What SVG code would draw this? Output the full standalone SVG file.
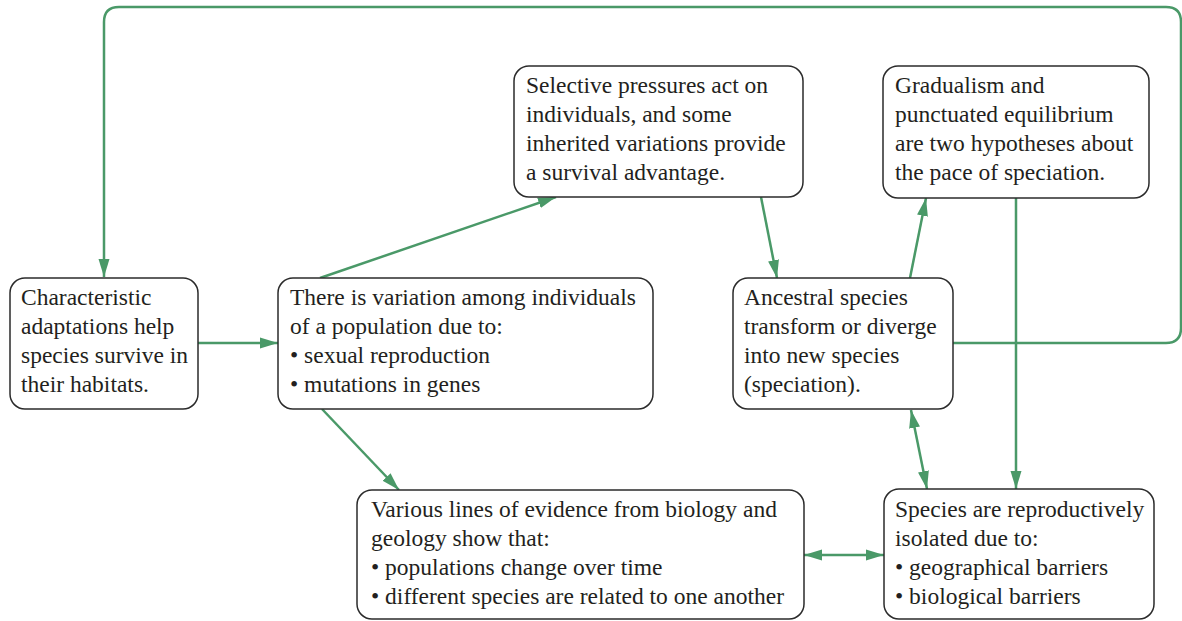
<svg xmlns="http://www.w3.org/2000/svg" width="1182" height="621" viewBox="0 0 1182 621">
<style>
.box{fill:#fff;stroke:#2b2b2b;stroke-width:1.5}
.t{font-family:"Liberation Serif","Times New Roman",serif;font-size:23.5px;fill:#231f20}
.c{fill:none;stroke:#4a9968;stroke-width:2.5}
</style>
<defs>
<marker id="ah" markerUnits="userSpaceOnUse" markerWidth="20" markerHeight="14" refX="18" refY="7" orient="auto-start-reverse" viewBox="0 0 20 14">
<path d="M0,1.5 L18,7 L0,12.5 Z" fill="#4a9968"/>
</marker>
</defs>
<g id="connectors">
<path class="c" d="M953,343 H1166 Q1181,343 1181,328 V22 Q1181,7 1166,7 H119 Q104,7 104,22 V277" marker-end="url(#ah)"/>
<line class="c" x1="198" y1="343" x2="278" y2="343" marker-end="url(#ah)"/>
<line class="c" x1="320" y1="278" x2="556" y2="197" marker-end="url(#ah)"/>
<line class="c" x1="761" y1="197" x2="777" y2="278" marker-end="url(#ah)"/>
<line class="c" x1="910" y1="278" x2="926" y2="198" marker-end="url(#ah)"/>
<line class="c" x1="1016" y1="198" x2="1016" y2="489" marker-end="url(#ah)"/>
<line class="c" x1="322" y1="409" x2="399" y2="490" marker-end="url(#ah)"/>
<line class="c" x1="911" y1="410" x2="927" y2="489" marker-start="url(#ah)" marker-end="url(#ah)"/>
<line class="c" x1="804" y1="555" x2="884" y2="555" marker-start="url(#ah)" marker-end="url(#ah)"/>
</g>
<g id="node-adaptations">
<rect class="box" x="10" y="278" width="188" height="131" rx="15"/>
<text class="t" x="21" y="305">Characteristic</text>
<text class="t" x="21" y="334">adaptations help</text>
<text class="t" x="21" y="363">species survive in</text>
<text class="t" x="21" y="392">their habitats.</text>
</g>
<g id="node-variation">
<rect class="box" x="278" y="278" width="375" height="131" rx="15"/>
<text class="t" x="290" y="305">There is variation among individuals</text>
<text class="t" x="290" y="334">of a population due to:</text>
<text class="t" x="290" y="363">• sexual reproduction</text>
<text class="t" x="290" y="392">• mutations in genes</text>
</g>
<g id="node-selective">
<rect class="box" x="514" y="66" width="289" height="131" rx="15"/>
<text class="t" x="526" y="93">Selective pressures act on</text>
<text class="t" x="526" y="122">individuals, and some</text>
<text class="t" x="526" y="151">inherited variations provide</text>
<text class="t" x="526" y="180">a survival advantage.</text>
</g>
<g id="node-ancestral">
<rect class="box" x="733" y="278" width="220" height="131" rx="15"/>
<text class="t" x="744" y="305">Ancestral species</text>
<text class="t" x="744" y="334">transform or diverge</text>
<text class="t" x="744" y="363">into new species</text>
<text class="t" x="744" y="392">(speciation).</text>
</g>
<g id="node-gradualism">
<rect class="box" x="883" y="66" width="266" height="132" rx="15"/>
<text class="t" x="895" y="93">Gradualism and</text>
<text class="t" x="895" y="122">punctuated equilibrium</text>
<text class="t" x="895" y="151">are two hypotheses about</text>
<text class="t" x="895" y="180">the pace of speciation.</text>
</g>
<g id="node-evidence">
<rect class="box" x="357" y="490" width="447" height="129" rx="15"/>
<text class="t" x="371" y="517">Various lines of evidence from biology and</text>
<text class="t" x="371" y="546">geology show that:</text>
<text class="t" x="371" y="575">• populations change over time</text>
<text class="t" x="371" y="604">• different species are related to one another</text>
</g>
<g id="node-isolation">
<rect class="box" x="884" y="489" width="270" height="130" rx="15"/>
<text class="t" x="895" y="517">Species are reproductively</text>
<text class="t" x="895" y="546">isolated due to:</text>
<text class="t" x="895" y="575">• geographical barriers</text>
<text class="t" x="895" y="604">• biological barriers</text>
</g>
</svg>
